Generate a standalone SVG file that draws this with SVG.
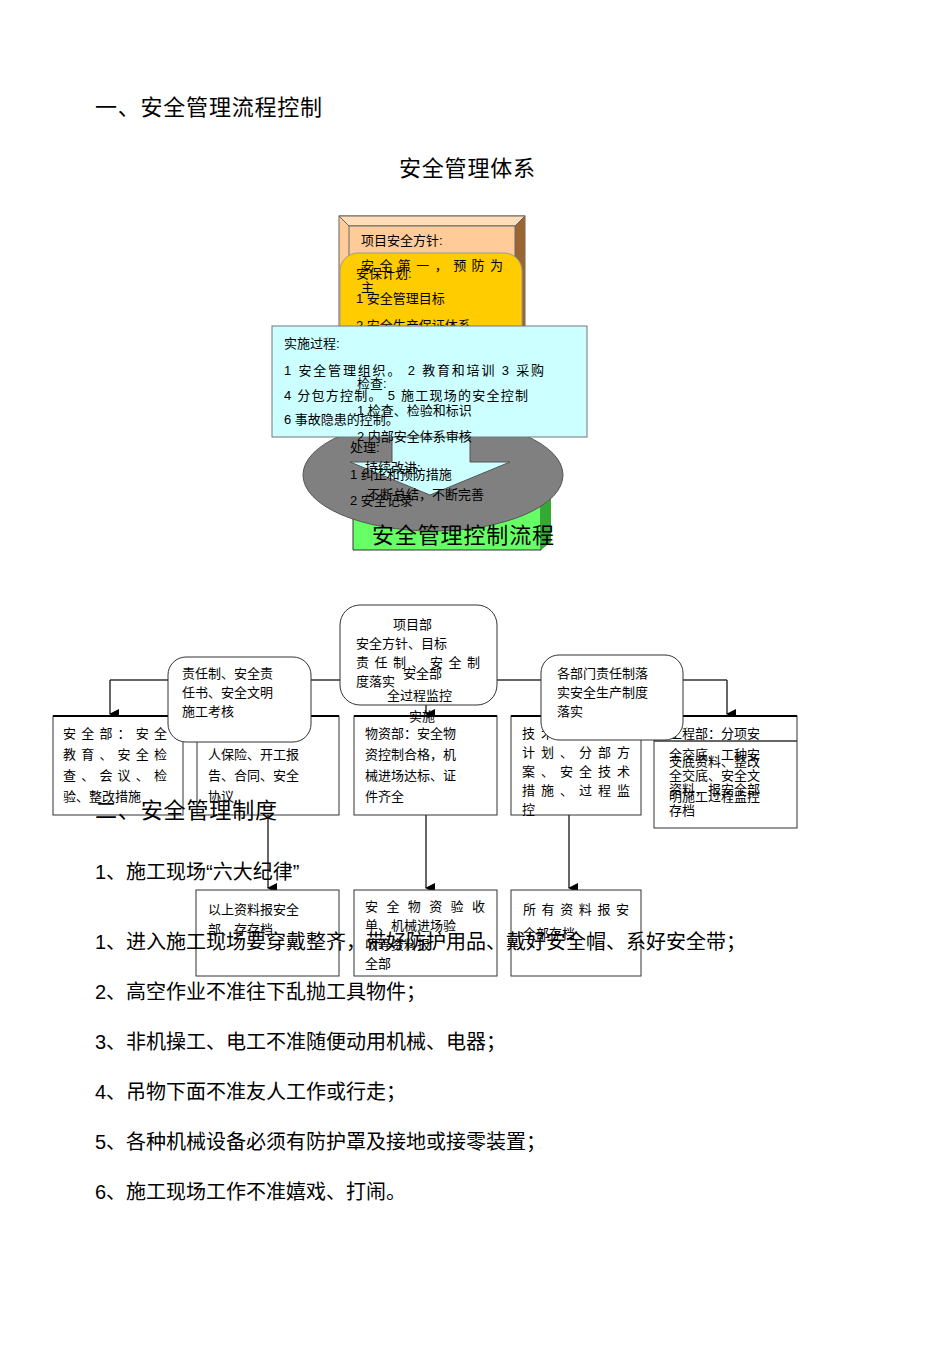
<svg xmlns="http://www.w3.org/2000/svg" width="950" height="1345" viewBox="0 0 950 1345">
<style>
text{font-family:"Liberation Sans","Noto Sans CJK SC",sans-serif;fill:#000}
.s{font-size:13px}.b{font-size:22px}.m{font-size:20px}
.bx{fill:#fff;stroke:#333;stroke-width:1}
.tk{stroke:#000;stroke-width:2}
.ln{fill:none;stroke:#333;stroke-width:1.5}
</style>
<defs><marker id="a" markerWidth="10" markerHeight="10" refX="5" refY="9" orient="auto" markerUnits="userSpaceOnUse"><path d="M0,0 L10,0 L5,10z" fill="#000"/></marker></defs>
<text x="95" y="115" class="b" textLength="227">一、安全管理流程控制</text>
<text x="399" y="176" class="b" textLength="136">安全管理体系</text>
<g id="policy"><rect x="339" y="216" width="186" height="120" fill="#FFCC99" stroke="#666"/><path d="M515,226 L525,216 L525,336 L515,336z" fill="#996633"/><path d="M339,216 L525,216 L515,226 L349,226z" fill="#FFDDBB" stroke="#666"/><rect x="349" y="226" width="166" height="110" fill="#FFCC99" stroke="#666"/>
<text x="361" y="245" class="s">项目安全方针:</text></g>
<g id="plan"><rect x="340" y="253" width="182" height="100" rx="18" fill="#FFCC00" stroke="#999"/>
<text x="361" y="270" class="s" textLength="142">安全第一，预防为</text><text x="361" y="292" class="s">主</text>
<text x="356" y="278" class="s">安保计划:</text><text x="356" y="303" class="s">1 安全管理目标</text><text x="356" y="330" class="s">2 安全生产保证体系</text></g>
<g id="cycle">
<path d="M353,505 L541,505 L541,550 L353,550z" fill="#66FF66" stroke="#333"/><path d="M541,505 L551,497 L551,542 L541,550z" fill="#33AA33"/>
<ellipse cx="433" cy="475" rx="130" ry="56" fill="#808080" stroke="#555"/>
<path d="M392,437 L470,437 L470,462 L510,462 L430,495 L350,462 L392,462z" fill="#CCFFFF" stroke="#555"/></g>
<g id="impl"><rect x="272" y="326" width="315" height="111" fill="#CCFFFF" stroke="#777"/>
<text x="284" y="348" class="s">实施过程:</text><text x="284" y="375" class="s" textLength="260">1 安全管理组织。   2 教育和培训   3 采购</text>
<text x="284" y="400" class="s" textLength="244">4 分包方控制。   5 施工现场的安全控制</text><text x="284" y="424" class="s">6 事故隐患的控制。</text>
<text x="357" y="388" class="s">检查:</text><text x="357" y="415" class="s">1 检查、检验和标识</text><text x="357" y="441" class="s">2 内部安全体系审核</text>
<text x="350" y="452" class="s">处理:</text><text x="365" y="472" class="s">持续改进:</text><text x="350" y="479" class="s">1 纠正和预防措施</text>
<text x="367" y="499" class="s">不断总结，不断完善</text><text x="350" y="505" class="s">2 安全记录</text>
<text x="372" y="543" class="b" textLength="182">安全管理控制流程</text></g>
<g id="connectors">
<path class="ln" d="M110,680 L727,680"/>
<path class="ln" d="M110,680 L110,714" marker-end="url(#a)"/><path class="ln" d="M727,680 L727,714" marker-end="url(#a)"/>
<path class="ln" d="M426,680 L426,714" marker-end="url(#a)"/>
<path class="ln" d="M268,815 L268,888" marker-end="url(#a)"/><path class="ln" d="M426,815 L426,888" marker-end="url(#a)"/><path class="ln" d="M569,815 L569,888" marker-end="url(#a)"/>
</g>
<g id="dept1"><rect class="bx" x="53" y="716" width="130" height="99"/><path class="tk" d="M53,716 L183,716"/>
<text x="63" y="738" class="s" textLength="104">安全部：安全</text><text x="63" y="759" class="s" textLength="104">教育、安全检</text><text x="63" y="780" class="s" textLength="104">查、会议、检</text><text x="63" y="801" class="s">验、整改措施</text></g>
<g id="dept2"><rect class="bx" x="197" y="716" width="142" height="99"/><path class="tk" d="M197,716 L339,716"/>
<text x="208" y="738" class="s">商务部：办理工</text><text x="208" y="759" class="s">人保险、开工报</text><text x="208" y="780" class="s">告、合同、安全</text><text x="208" y="801" class="s">协议</text></g>
<g id="dept3"><rect class="bx" x="354" y="716" width="143" height="99"/><path class="tk" d="M354,716 L497,716"/>
<text x="365" y="738" class="s">物资部：安全物</text><text x="365" y="759" class="s">资控制合格，机</text><text x="365" y="780" class="s">械进场达标、证</text><text x="365" y="801" class="s">件齐全</text></g>
<g id="dept4"><rect class="bx" x="511" y="716" width="130" height="99"/><path class="tk" d="M511,716 L641,716"/>
<text x="522" y="738" class="s" textLength="108">技术部：安保</text><text x="522" y="757" class="s" textLength="108">计划、分部方</text><text x="522" y="776" class="s" textLength="108">案、安全技术</text><text x="522" y="795" class="s" textLength="108">措施、过程监</text><text x="522" y="814" class="s">控</text></g>
<g id="dept5"><rect class="bx" x="654" y="716" width="143" height="112"/><path class="tk" d="M654,716 L797,716"/><path class="ln" d="M654,741 L797,741"/>
<text x="669" y="738" class="s">工程部：分项安</text><text x="669" y="759" class="s">全交底、工种安</text><text x="669" y="766" class="s">交底资料、整改</text>
<text x="669" y="780" class="s">全交底、安全文</text><text x="669" y="794" class="s">资料，报安全部</text><text x="669" y="801" class="s">明施工过程监控</text><text x="669" y="815" class="s">存档</text></g>
<g id="top"><rect class="bx" x="340" y="605" width="157" height="100" rx="20"/>
<text x="393" y="629" class="s">项目部</text><text x="356" y="648" class="s">安全方针、目标</text><text x="356" y="667" class="s" textLength="124">责任制、安全制</text><text x="356" y="686" class="s">度落实</text>
<text x="403" y="678" class="s">安全部</text><text x="387" y="700" class="s">全过程监控</text><text x="409" y="721" class="s">实施</text></g>
<g id="resp"><rect class="bx" x="168" y="657" width="143" height="85" rx="18"/>
<text x="182" y="678" class="s">责任制、安全责</text><text x="182" y="697" class="s">任书、安全文明</text><text x="182" y="716" class="s">施工考核</text></g>
<g id="deptresp"><rect class="bx" x="541" y="655" width="142" height="85" rx="18"/>
<text x="557" y="678" class="s">各部门责任制落</text><text x="557" y="697" class="s">实安全生产制度</text><text x="557" y="716" class="s">落实</text></g>
<g id="r1"><rect class="bx" x="196" y="890" width="143" height="86"/><text x="208" y="914" class="s">以上资料报安全</text><text x="208" y="934" class="s">部、存存档</text></g>
<g id="r2"><rect class="bx" x="354" y="890" width="143" height="86" stroke-width="2"/><text x="365" y="911" class="s" textLength="120">安全物资验收</text><text x="365" y="930" class="s">单、机械进场验</text><text x="365" y="949" class="s">收等资料报</text><text x="365" y="968" class="s">全部</text></g>
<g id="r3"><rect class="bx" x="511" y="890" width="130" height="86"/><text x="523" y="914" class="s" textLength="106">所有资料报安</text><text x="523" y="938" class="s">全部存档</text></g>
<text x="95" y="818" class="b" textLength="182">二、安全管理制度</text>
<text x="95" y="879" class="m">1、施工现场“六大纪律”</text>
<text x="95" y="949" class="m">1、进入施工现场要穿戴整齐，带好防护用品、戴好安全帽、系好安全带；</text>
<text x="95" y="999" class="m">2、高空作业不准往下乱抛工具物件；</text>
<text x="95" y="1049" class="m">3、非机操工、电工不准随便动用机械、电器；</text>
<text x="95" y="1099" class="m">4、吊物下面不准友人工作或行走；</text>
<text x="95" y="1149" class="m">5、各种机械设备必须有防护罩及接地或接零装置；</text>
<text x="95" y="1199" class="m">6、施工现场工作不准嬉戏、打闹。</text>
</svg>
